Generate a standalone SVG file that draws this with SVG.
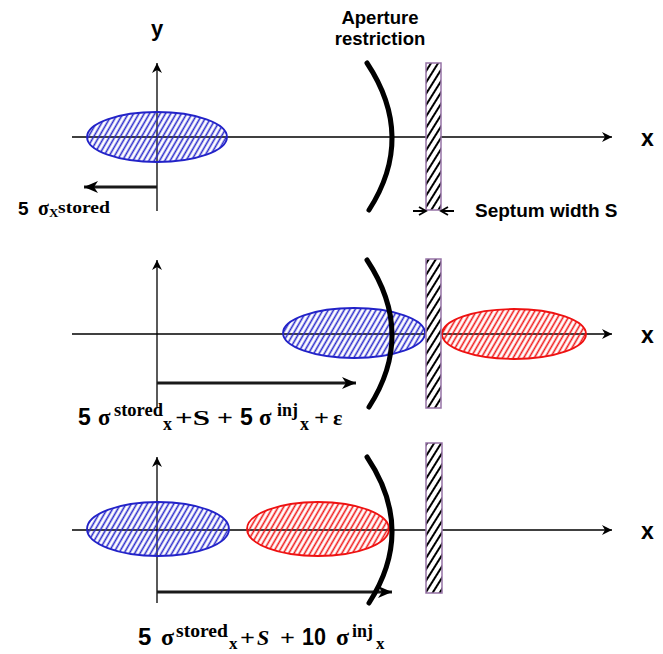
<svg xmlns="http://www.w3.org/2000/svg" width="663" height="654" viewBox="0 0 663 654">
<style>
.ax{stroke:#000;stroke-width:1.3;fill:none}
.dist{stroke:#1a1a1a;stroke-width:3;fill:none}
.arc{stroke:#000;stroke-width:5;fill:none;stroke-linecap:round}
.sep{fill:url(#hs);stroke:#9673a6;stroke-width:1.5}
.eb{fill:url(#hb);stroke:#2222c8;stroke-width:1.8}
.er{fill:url(#hr);stroke:#ee1111;stroke-width:1.8}
.lbl{font-family:"Liberation Sans",Arial,sans-serif;font-weight:bold;fill:#000}
.sf{font-family:"Liberation Serif","Times New Roman",serif;font-weight:bold}
.sn{font-family:"Liberation Sans",Arial,sans-serif;font-weight:bold}
.sw{stroke:#000;stroke-width:1.8;fill:none}
</style>
<defs>
<pattern id="hb" patternUnits="userSpaceOnUse" width="4.6" height="10" patternTransform="rotate(30)"><line x1="2.3" y1="-1" x2="2.3" y2="11" stroke="#2a2acc" stroke-width="1.6"/></pattern>
<pattern id="hr" patternUnits="userSpaceOnUse" width="4.6" height="10" patternTransform="rotate(30)"><line x1="2.3" y1="-1" x2="2.3" y2="11" stroke="#f01818" stroke-width="1.6"/></pattern>
<pattern id="hs" patternUnits="userSpaceOnUse" width="6" height="10" patternTransform="rotate(32)"><rect x="0" y="0" width="6" height="10" fill="#fff"/><line x1="3" y1="-1" x2="3" y2="11" stroke="#000" stroke-width="2"/></pattern>
<marker id="ma" markerUnits="userSpaceOnUse" markerWidth="12" markerHeight="12" refX="10" refY="5" orient="auto"><path d="M0,0 L10,5 L0,10 L3,5 Z" fill="#000"/></marker>
<marker id="mt" markerUnits="userSpaceOnUse" markerWidth="16" markerHeight="14" refX="14" refY="6" orient="auto"><path d="M0,0 L14,6 L0,12 L4,6 Z" fill="#000"/></marker>
</defs>

<g id="connectors">
<line class="ax" x1="72" y1="137" x2="612" y2="137" marker-end="url(#ma)"/>
<line class="ax" x1="157" y1="211" x2="157" y2="63" marker-end="url(#ma)"/>
<line class="ax" x1="72" y1="334" x2="612" y2="334" marker-end="url(#ma)"/>
<line class="ax" x1="157" y1="407" x2="157" y2="260" marker-end="url(#ma)"/>
<line class="ax" x1="72" y1="530" x2="612" y2="530" marker-end="url(#ma)"/>
<line class="ax" x1="157" y1="603" x2="157" y2="457" marker-end="url(#ma)"/>
<line class="dist" x1="157" y1="187" x2="84" y2="187" marker-end="url(#mt)"/>
<line class="dist" x1="157" y1="383" x2="356" y2="383" marker-end="url(#mt)"/>
<line class="dist" x1="157" y1="592" x2="392" y2="592" marker-end="url(#mt)"/>
</g>

<g id="stored-beam-1"><ellipse class="eb" cx="157" cy="137" rx="70" ry="25"/></g>
<g id="stored-beam-2"><ellipse class="eb" cx="354" cy="333" rx="71" ry="25"/></g>
<g id="injected-beam-2"><ellipse class="er" cx="514" cy="334" rx="72" ry="25"/></g>
<g id="stored-beam-3"><ellipse class="eb" cx="158" cy="529" rx="71" ry="27"/></g>
<g id="injected-beam-3"><ellipse class="er" cx="318" cy="529" rx="71" ry="27"/></g>

<g id="aperture-1"><path class="arc" d="M367,63 Q416,137 369,210"/></g>
<g id="aperture-2"><path class="arc" d="M367,260 Q416,334 369,407"/></g>
<g id="aperture-3"><path class="arc" d="M367,457 Q416,530 369,603"/></g>

<g id="septum-1"><rect class="sep" x="426" y="63" width="15" height="147"/></g>
<g id="septum-2"><rect class="sep" x="426" y="259" width="15" height="149"/></g>
<g id="septum-3"><rect class="sep" x="426" y="443" width="16" height="150"/></g>

<g id="septum-width">
<path class="sw" d="M413,211 L426,211 M419,207 L426,211 L419,215"/>
<path class="sw" d="M454,211 L441,211 M448,207 L441,211 L448,215"/>
<text class="lbl" x="475" y="217" font-size="19">Septum width S</text>
</g>

<g id="labels">
<text class="lbl" x="157" y="36" font-size="22" text-anchor="middle">y</text>
<text class="lbl" x="380" y="24" font-size="18.5" text-anchor="middle">Aperture</text>
<text class="lbl" x="380" y="45" font-size="18.5" text-anchor="middle">restriction</text>
<text class="lbl" x="641" y="146" font-size="23">x</text>
<text class="lbl" x="641" y="343" font-size="23">x</text>
<text class="lbl" x="641" y="539" font-size="23">x</text>
</g>

<g id="formula-1">
<text x="18" y="215" font-size="19" class="sn">5</text>
<text x="38" y="215" font-size="20" class="sf">σ</text>
<text x="49" y="217" font-size="13" class="sf">X</text>
<text x="58" y="213" font-size="16" class="sf" textLength="52" lengthAdjust="spacingAndGlyphs">stored</text>
</g>

<g id="formula-2">
<text x="78" y="425" font-size="23" class="sn">5</text>
<text x="98" y="425" font-size="23" class="sf">σ</text>
<text x="114" y="416" font-size="18" class="sf" textLength="49" lengthAdjust="spacingAndGlyphs">stored</text>
<text x="163" y="430" font-size="18" class="sf">x</text>
<text x="175" y="425" font-size="22" class="sf" textLength="35" lengthAdjust="spacingAndGlyphs">+S</text>
<text x="217" y="425" font-size="22" class="sf" textLength="16" lengthAdjust="spacingAndGlyphs">+</text>
<text x="240" y="425" font-size="23" class="sn">5</text>
<text x="259" y="425" font-size="23" class="sf">σ</text>
<text x="277" y="416" font-size="18" class="sf">inj</text>
<text x="300" y="430" font-size="18" class="sf">x</text>
<text x="314" y="425" font-size="22" class="sf" textLength="15" lengthAdjust="spacingAndGlyphs">+</text>
<text x="333" y="425" font-size="22" class="sf">ε</text>
</g>

<g id="formula-3">
<text x="138" y="645" font-size="24" class="sn">5</text>
<text x="161" y="645" font-size="24" class="sf">σ</text>
<text x="176" y="637" font-size="18" class="sf" textLength="52" lengthAdjust="spacingAndGlyphs">stored</text>
<text x="229" y="649" font-size="17" class="sf">x</text>
<text x="240" y="645" font-size="22" class="sf" textLength="15" lengthAdjust="spacingAndGlyphs">+</text>
<text x="257" y="645" font-size="22" class="sf" font-style="italic">S</text>
<text x="280" y="645" font-size="22" class="sf" textLength="15" lengthAdjust="spacingAndGlyphs">+</text>
<text x="302" y="645" font-size="24" class="sn" textLength="24" lengthAdjust="spacingAndGlyphs">10</text>
<text x="336" y="645" font-size="24" class="sf">σ</text>
<text x="352" y="637" font-size="18" class="sf">inj</text>
<text x="376" y="649" font-size="17" class="sf">x</text>
</g>
</svg>
